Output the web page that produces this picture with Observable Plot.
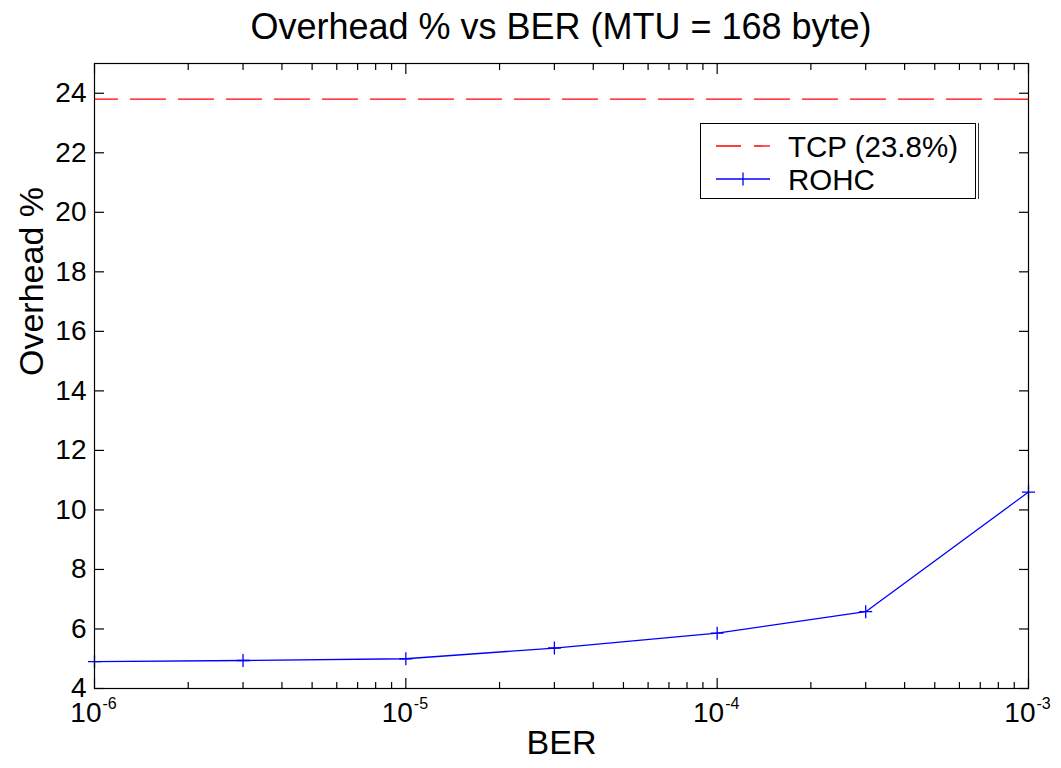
<!DOCTYPE html>
<html>
<head>
<meta charset="utf-8">
<script src="https://cdn.jsdelivr.net/npm/d3@7"></script>
<script src="https://cdn.jsdelivr.net/npm/@observablehq/plot@0.6"></script>
<style>
  body { margin: 0; background: #fff; font-family: "Liberation Sans", Arial, sans-serif; }
  #wrap { position: relative; width: 1061px; height: 768px; background: #fff; }
  #title { height: 50px; line-height: 50px; padding: 2px 33px 0 94px; box-sizing: border-box; text-align: center; font-size: 36px; color: #000; white-space: nowrap; }
  #legend { position: absolute; left: 700px; top: 123px; width: 274px; height: 74px; border: 1px solid #000; background: #fff;
            box-shadow: 2px 0 0 0 #fff, 3px 0 0 0 #333; }
  #legend svg { display: block; }
</style>
</head>
<body>
<div id="wrap">
  <div id="title">Overhead % vs BER (MTU = 168 byte)</div>
  <div id="chart"></div>
  <div id="legend"></div>
</div>
<script>
// Bit error rates at which ROHC overhead was evaluated
const berValues = [1e-6, 3e-6, 1e-5, 3e-5, 1e-4, 3e-4, 1e-3];
// ROHC overhead (%) at each BER
const rohcOverhead = [4.9, 4.94, 5.0, 5.36, 5.86, 6.58, 10.6];
// Constant TCP/IP header overhead (%)
const tcpOverhead = 23.8;

// Axis ticks
const yTicks = [4, 6, 8, 10, 12, 14, 16, 18, 20, 22, 24];
const xMajorTicks = [1e-6, 1e-5, 1e-4, 1e-3];
const xMinorMultipliers = [2, 3, 4, 5, 6, 7, 8, 9];
const xMinorTicks = [1e-6, 1e-5, 1e-4].flatMap(d => xMinorMultipliers.map(m => m * d));

const seriesNames = ["TCP (23.8%)", "ROHC"];

const rohc = berValues.map((ber, i) => ({ber, overhead: rohcOverhead[i]}));

// Stroked "+" marker
const plusStroke = {
  draw(context, size) {
    const r = Math.sqrt(size / Math.PI);
    context.moveTo(-r, 0); context.lineTo(r, 0);
    context.moveTo(0, -r); context.lineTo(0, r);
  }
};

const blue = "#0000ff";
const red = "#ff0000";

const chart = Plot.plot({
  width: 1061,
  height: 718,
  marginTop: 13,
  marginBottom: 80,
  marginLeft: 94,
  marginRight: 33,
  style: {fontFamily: "'Liberation Sans', Arial, sans-serif", background: "#fff", color: "#000", overflow: "visible"},
  x: {type: "log", domain: [1e-6, 1e-3], axis: null},
  y: {domain: [4, 25], axis: null},
  marks: [
    // Inward ticks on all four sides
    Plot.axisY({anchor: "left", ticks: yTicks, tickSize: -10, tickPadding: 18, fontSize: 28, label: null, strokeWidth: 1.2}),
    Plot.axisY({anchor: "right", ticks: yTicks, tickSize: -10, tickFormat: () => "", label: null, strokeWidth: 1.2}),
    Plot.axisX({anchor: "bottom", ticks: xMajorTicks, tickSize: -10, tickFormat: () => "", label: null, strokeWidth: 1.2}),
    Plot.axisX({anchor: "bottom", ticks: xMinorTicks, tickSize: -6, tickFormat: () => "", label: null, strokeWidth: 1.2}),
    Plot.axisX({anchor: "top", ticks: xMajorTicks, tickSize: -10, tickFormat: () => "", label: null, strokeWidth: 1.2}),
    Plot.axisX({anchor: "top", ticks: xMinorTicks, tickSize: -6, tickFormat: () => "", label: null, strokeWidth: 1.2}),
    // Power-of-ten tick labels: base and raised exponent
    Plot.text(xMajorTicks, {x: d => d, text: () => "10", frameAnchor: "bottom", textAnchor: "end", dx: 7, dy: 33, fontSize: 28, fill: "#000"}),
    Plot.text(xMajorTicks, {x: d => d, text: d => String(Math.round(Math.log10(d))), frameAnchor: "bottom", textAnchor: "start", dx: 8, dy: 20, fontSize: 16, fill: "#000"}),
    // Axis titles
    Plot.text(["Overhead %"], {text: d => d, frameAnchor: "left", dx: -62, rotate: -90, fontSize: 34, fill: "#000"}),
    Plot.text(["BER"], {text: d => d, frameAnchor: "bottom", dy: 65, fontSize: 34, fill: "#000"}),
    // TCP constant overhead
    Plot.ruleY([tcpOverhead], {stroke: red, strokeWidth: 1.3, strokeDasharray: "36,12", strokeDashoffset: 12}),
    // ROHC curve with markers
    Plot.line(rohc, {x: "ber", y: "overhead", stroke: blue, strokeWidth: 1.3}),
    Plot.dot(rohc, {x: "ber", y: "overhead", symbol: plusStroke, r: 6.5, stroke: blue, strokeWidth: 1.3, fill: "none"}),
    Plot.frame({stroke: "#000", strokeWidth: 1.2})
  ]
});
document.getElementById("chart").appendChild(chart);

// Legend box with line samples
const legendSvg = d3.create("svg").attr("width", 274).attr("height", 74)
  .style("font-family", "'Liberation Sans', Arial, sans-serif");
const rows = [
  {name: seriesNames[0], color: red, dashed: true, y: 22},
  {name: seriesNames[1], color: blue, dashed: false, y: 55}
];
rows.forEach(r => {
  const line = legendSvg.append("line").attr("x1", 15).attr("x2", 69).attr("y1", r.y).attr("y2", r.y)
    .attr("stroke", r.color).attr("stroke-width", 1.3);
  if (r.dashed) line.attr("stroke-dasharray", "25,13");
  else {
    legendSvg.append("line").attr("x1", 42).attr("x2", 42).attr("y1", r.y - 6.5).attr("y2", r.y + 6.5)
      .attr("stroke", r.color).attr("stroke-width", 1.3);
  }
  legendSvg.append("text").attr("x", 87).attr("y", r.y).attr("dy", "0.36em")
    .attr("font-size", 29.5).attr("fill", "#000").text(r.name);
});
document.getElementById("legend").appendChild(legendSvg.node());
</script>
</body>
</html>
